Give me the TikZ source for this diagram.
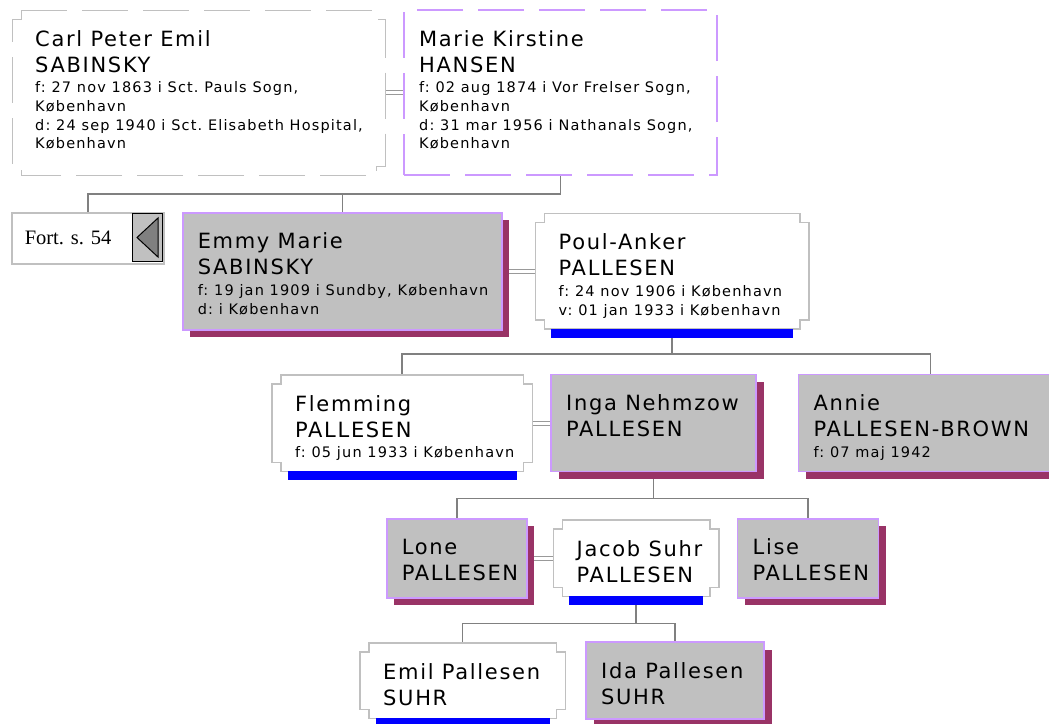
\documentclass[tikz,border=0pt]{standalone}
\usepackage{fontspec}
\newfontfamily\famfont{DejaVu Sans}[LetterSpace=8]
\newfontfamily\fortfont{Liberation Serif}
\usetikzlibrary{positioning, calc, shadows, backgrounds}
\definecolor{boxgrey}{HTML}{C0C0C0}
\definecolor{linegrey}{HTML}{808080}
\definecolor{lilac}{HTML}{CC99FF}
\definecolor{plum}{HTML}{993366}
\frenchspacing
\newlength{\padl}
\newcommand{\nm}{\famfont\fontsize{21}{26}\selectfont}
\newcommand{\dt}{\par\vspace{2pt}\famfont\fontsize{14.5}{18.7}\selectfont}
\newcommand{\card}[3]{\parbox[t][#2pt][t]{#1pt}{\raggedright\leftskip=\padl #3}}
\newcommand{\notched}[2][]{%
  \draw[notch,#1] ($(#2.north west)+(9,0)$) -| ($(#2.north east)+(-9,9)$)
    -- ($(#2.north east)+(0,9)$) -- ($(#2.south east)+(0,-9)$)
    -| ($(#2.south east)+(-9,0)$) -| ($(#2.south west)+(9,-9)$)
    -- ($(#2.south west)+(0,-9)$) -- ($(#2.north west)+(0,9)$)
    -- ($(#2.north west)+(9,9)$) -- cycle;}

\begin{document}
\begin{tikzpicture}[x=1pt, y=-1pt,
         man/.style = {fill=white, inner xsep=0pt, inner ysep=20pt,
                       execute at begin node={\setlength{\padl}{23pt}}},
       woman/.style = {fill=boxgrey, draw=lilac, line width=1.5pt,
                       inner xsep=0pt, inner ysep=20pt,
                       drop shadow={shadow xshift=7.5pt, shadow yshift=-7.5pt,
                                    fill=plum, opacity=1},
                       execute at begin node={\setlength{\padl}{15pt}}},
     grandma/.style = {draw=lilac, line width=1.5pt, dash pattern=on 46pt off 15pt,
                       inner xsep=0pt, inner ysep=20pt,
                       execute at begin node={\setlength{\padl}{15pt}}},
       notch/.style = {draw=boxgrey, line width=1.5pt},
     fortbox/.style = {draw=boxgrey, line width=1.5pt, minimum height=51pt,
                       text width=126pt, align=left, inner xsep=13pt,
                       font=\fortfont\fontsize{20.5}{24}\selectfont},
         btn/.style = {fill=boxgrey, draw=black, line width=1pt, inner sep=0pt,
                       minimum width=30pt, minimum height=48pt},
         gen/.style = {draw=linegrey, line width=1.5pt},
         wed/.style = {draw=linegrey!80, line width=1pt, double=white, double distance=3pt}
                    ]
\useasboundingbox (0,0) rectangle (1049,723);
% grandparents
\node (carl) [man, anchor=north west] at (12,10) {\card{373}{125}{\nm Carl Peter Emil\\SABINSKY
  \dt f: 27 nov 1863 i Sct. Pauls Sogn,\\København\\d: 24 sep 1940 i Sct. Elisabeth Hospital,\\København}};
\node (marie) [grandma, right=18pt of carl] {\card{313}{125}{\nm Marie Kirstine\\HANSEN
  \dt f: 02 aug 1874 i Vor Frelser Sogn,\\København\\d: 31 mar 1956 i Nathanals Sogn,\\København}};
\notched[line width=1pt, dash pattern=on 46pt off 15pt]{carl}
% cross reference
\node (fort) [fortbox, anchor=north west] at (11,212) {Fort. s. 54};
\node (back) [btn, anchor=north west] at (132,213) {};
\draw[fill=linegrey, line width=1pt] ($(back.west)+(5,0)$) -- ($(back.north east)+(-5,5)$)
  -- ($(back.south east)+(-5,-5)$) -- cycle;
% parents
\node (emmy) [woman, anchor=north west] at (182,212) {\card{319}{77}{\nm Emmy Marie\\SABINSKY
  \dt f: 19 jan 1909 i Sundby, København\\d: i København}};
\node (poul) [man, right=33pt of emmy] {\card{273}{75}{\nm Poul-Anker\\PALLESEN
  \dt f: 24 nov 1906 i København\\v: 01 jan 1933 i København}};
% children
\node (flemming) [man, anchor=north west] at (272,375) {\card{260}{56}{\nm Flemming\\PALLESEN
  \dt f: 05 jun 1933 i København}};
\node (inga) [woman, right=18pt of flemming] {\card{205}{57}{\nm Inga~Nehmzow\\PALLESEN}};
\node (annie) [woman, right=41pt of inga] {\card{264}{57}{\nm Annie\\\mbox{PALLESEN-BROWN}
  \dt f: 07 maj 1942}};
% grandchildren
\node (lone) [woman, anchor=north west] at (386,518) {\card{140}{39}{\nm Lone\\PALLESEN}};
\node (jacob) [man, right=26pt of lone] {\card{165}{36}{\nm Jacob~Suhr\\PALLESEN}};
\node (lise) [woman, right=18pt of jacob] {\card{141}{39}{\nm Lise\\PALLESEN}};
% great grandchildren
\node (emil) [man, anchor=north west] at (360,643) {\card{205}{35}{\nm Emil~Pallesen\\SUHR}};
\node (ida) [woman, right=20pt of emil] {\card{178}{37}{\nm Ida~Pallesen\\SUHR}};

\foreach \n in {poul,flemming,jacob,emil} {
  \notched{\n}
  \fill[blue] ($(\n.south west)+(15.5,0)$) rectangle ($(\n.south east)+(-15.5,9)$);
}

\begin{scope}[on background layer]
\draw[wed] (carl.east) -- (marie.west);
\draw[wed] (emmy.east) -- (poul.west);
\draw[wed] (flemming.east) -- (flemming.east -| inga.west);
\draw[wed] (lone.east) -- (lone.east -| jacob.west);
\coordinate (k1) at ($(marie.south)+(0,18)$);
\draw[gen] (marie.south) -- (k1) -| (fort.north);
\draw[gen] (k1 -| emmy.north) -- (emmy.north);
\coordinate (k2) at ($(poul.south)+(0,25)$);
\draw[gen] (poul.south) -- (k2) -| (flemming.north);
\draw[gen] (k2) -| (annie.north);
\coordinate (k3) at ($(inga.south)+(0,26)$);
\draw[gen] (inga.south) -- (k3) -| (lone.north);
\draw[gen] (k3) -| (lise.north);
\coordinate (k4) at ($(jacob.south)+(0,27)$);
\draw[gen] (jacob.south) -- (k4) -| (emil.north);
\draw[gen] (k4) -| (ida.north);
\end{scope}
\end{tikzpicture}
\end{document}
